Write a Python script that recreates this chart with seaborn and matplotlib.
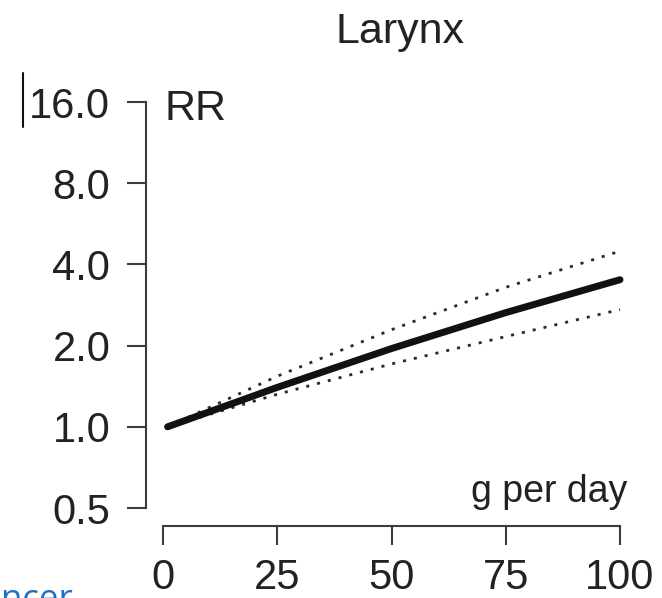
import matplotlib
matplotlib.use("Agg")
import matplotlib.pyplot as plt
from matplotlib.lines import Line2D
import pandas as pd
import seaborn as sns

# Daily alcohol intake (g per day) and relative risk of laryngeal cancer
dose = [1, 25, 50, 75, 100]
rr_mid = [1.0, 1.40, 1.95, 2.65, 3.51]
rr_upper = [1.0, 1.54, 2.29, 3.29, 4.48]
rr_lower = [1.0, 1.32, 1.71, 2.16, 2.72]

y_ticks = [0.5, 1.0, 2.0, 4.0, 8.0, 16.0]
y_tick_labels = ["0.5", "1.0", "2.0", "4.0", "8.0", "16.0"]
x_ticks = [0, 25, 50, 75, 100]
x_tick_labels = ["0", "25", "50", "75", "100"]

df = pd.DataFrame({"dose": dose, "mid": rr_mid, "upper": rr_upper, "lower": rr_lower})

sns.set_theme(style="white")
plt.rcParams["font.family"] = ["Liberation Sans", "DejaVu Sans"]

W, H = 662, 598
fig = plt.figure(figsize=(W / 100, H / 100), dpi=100)
ax = fig.add_axes([163 / W, 1 - 508 / H, 457 / W, 406 / H])

axis_col = "#3c3c3c"
text_col = "#222222"

dot_style = (0, (1.1, 2.9))
sns.lineplot(data=df, x="dose", y="upper", ax=ax, color="#2a2a2a",
             linewidth=2.0, linestyle=dot_style, clip_on=False)
sns.lineplot(data=df, x="dose", y="lower", ax=ax, color="#2a2a2a",
             linewidth=2.0, linestyle=dot_style, clip_on=False)
sns.lineplot(data=df, x="dose", y="mid", ax=ax, color="#111111",
             linewidth=5, solid_capstyle="round", clip_on=False)

ax.set_yscale("log", base=2)
ax.set_xlim(0, 100)
ax.set_ylim(0.5, 16)
ax.set_yticks(y_ticks)
ax.set_yticklabels(y_tick_labels)
ax.set_xticks(x_ticks)
ax.set_xticklabels(x_tick_labels)
ax.minorticks_off()
ax.set_xlabel("")
ax.set_ylabel("")

for side in ("top", "right"):
    ax.spines[side].set_visible(False)
for side in ("left", "bottom"):
    ax.spines[side].set_color(axis_col)
    ax.spines[side].set_linewidth(1.5)
ax.spines["left"].set_position(("outward", 12.2))
ax.spines["bottom"].set_position(("outward", 13.0))

ax.tick_params(axis="both", which="major", direction="out", length=13.7,
               width=1.5, color=axis_col, labelsize=30, labelcolor=text_col,
               left=True, bottom=True)
ax.tick_params(axis="y", pad=12)
ax.tick_params(axis="x", pad=9)

# Panel title and axis annotations
fig.text(400 / W, 1 - 43 / H, "Larynx", ha="center", va="baseline",
         fontsize=31, color=text_col)
fig.text(165 / W, 1 - 120 / H, "RR", ha="left", va="baseline",
         fontsize=31, color=text_col)
fig.text(627 / W, 1 - 502 / H, "g per day", ha="right", va="baseline",
         fontsize=27, color=text_col)

# Page-edge elements around the panel
fig.add_artist(Line2D([23 / W, 23 / W], [1 - 73 / H, 1 - 127 / H],
                      transform=fig.transFigure, color="#111111", linewidth=1.5))
fig.text(73 / W, 1 - 609 / H, "cancer", ha="right", va="baseline",
         fontsize=25, color="#1f6fc5", family=["Open Sans", "DejaVu Sans"])

fig.savefig("out.png", dpi=100, facecolor="white")
